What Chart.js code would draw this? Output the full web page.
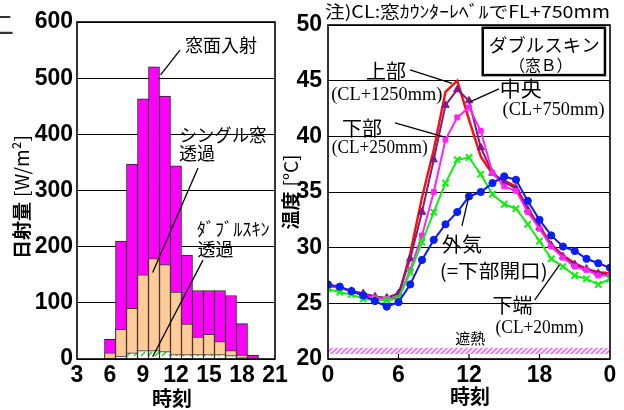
<!DOCTYPE html>
<html><head><meta charset="utf-8">
<script src="https://cdn.jsdelivr.net/npm/chart.js@4.4.1/dist/chart.umd.min.js"></script>
<style>
html,body{margin:0;padding:0;background:#fff;}
#wrap{position:relative;width:624px;height:410px;overflow:hidden;background:#fff;}
canvas{position:absolute;top:0;}
#solar{left:0;}
#temp{left:270px;}
</style></head><body>
<div id="wrap">
<canvas id="solar" width="300" height="410"></canvas>
<canvas id="temp" width="354" height="410"></canvas>
</div>
<script>
// --- hourly solar radiation on the window [W/m2] ---
const barHours    = [6, 7, 8, 9, 10, 11, 12, 13, 14, 15, 16, 17, 18, 19];
const incident    = [35, 210, 347, 463, 520, 468, 344, 185, 122, 122, 122, 113, 63, 7];
const singleTrans = [11, 53, 90, 150, 179, 168, 119, 62, 39, 44, 31, 15, 7, 0];
const doubleTrans = [1, 5, 11, 15, 15, 13, 8, 8, 8, 8, 8, 6, 3, 0];
const solarTicks  = [3, 6, 9, 12, 15, 18, 21];

// --- temperatures in the double skin cavity [°C] ---
const tempHours  = [0,1,2,3,4,5,6,7,8,9,10,11,12,13,14,15,16,17,18,19,20,21,22,23,24];
const upperTemp  = [26.6,26.4,26.1,25.8,25.6,25.4,25.6,29.5,34.5,38.8,44.0,45.0,41.5,38.2,36.6,36.0,35.5,33.5,31.9,30.3,29.3,28.6,28.1,27.8,27.7];
const middleTemp = [26.6,26.4,26.1,25.9,25.6,25.5,25.9,29.0,33.2,37.9,42.8,44.2,43.2,39.0,36.7,35.9,35.3,33.4,31.8,30.2,29.2,28.5,28.1,27.7,27.6];
const lowerTemp  = [26.6,26.4,26.1,25.7,25.5,25.4,25.5,28.0,31.1,35.0,39.7,41.7,42.6,40.5,36.7,35.5,35.1,33.2,31.7,30.1,29.1,28.3,28.0,27.5,27.5];
const outsideTemp= [26.7,26.5,26.1,25.7,25.2,24.7,25.1,26.7,28.9,30.7,32.1,33.2,34.6,35.0,35.8,36.4,36.1,34.2,32.5,31.1,30.1,29.7,29.0,28.6,28.2];
const edgeTemp   = [26.3,26.0,25.8,25.4,25.3,25.3,25.4,27.8,30.5,33.2,35.8,37.9,38.1,36.6,34.8,33.9,33.5,32.1,30.6,29.0,28.3,27.5,27.2,26.7,27.2];
const shieldHours  = [0, 24];
const shieldTop    = [21.0, 21.0];
const shieldBottom = [20.45, 20.45];
const tempTicks      = [0, 6, 12, 18, 24];
const tempTickLabels = ['0', '6', '12', '18', '0'];

const NUM = "'Liberation Sans Narrow','Arial Narrow','Liberation Sans',sans-serif";
const JP = "'Noto Sans CJK JP',sans-serif";
const SERIF = "'Liberation Serif',serif";

const pts = (xs, ys) => xs.map((x, i) => ({x: x, y: ys[i]}));

function makePattern(size, bg, color, lw, segs) {
  const c = document.createElement('canvas');
  c.width = size; c.height = size;
  const g = c.getContext('2d');
  g.fillStyle = bg; g.fillRect(0, 0, size, size);
  g.strokeStyle = color; g.lineWidth = lw;
  segs.forEach(s => { g.beginPath(); g.moveTo(s[0], s[1]); g.lineTo(s[2], s[3]); g.stroke(); });
  return g.createPattern(c, 'repeat');
}
const hatchGreen = makePattern(7, '#ffffff', '#22dd22', 1.6, [[1, 6, 5, 2]]);
const hatchPink  = makePattern(5, '#ffffff', '#ff66ff', 1.6, [[-1, 6, 6, -1], [4, 6, 6, 4], [-1, 1, 1, -1]]);

function txt(ctx, s, x, y, font, opts) {
  opts = opts || {};
  ctx.save();
  ctx.font = font;
  ctx.fillStyle = opts.color || '#000';
  ctx.textAlign = opts.align || 'center';
  ctx.textBaseline = 'middle';
  if (opts.width) {
    const k = opts.width / ctx.measureText(s).width;
    ctx.translate(x, y); ctx.scale(k, 1);
    ctx.fillText(s, 0, 0);
  } else {
    ctx.fillText(s, x, y);
  }
  ctx.restore();
}
function seg(ctx, x1, y1, x2, y2, w) {
  ctx.save();
  ctx.strokeStyle = '#000'; ctx.lineWidth = w || 1.3;
  ctx.beginPath(); ctx.moveTo(x1, y1); ctx.lineTo(x2, y2); ctx.stroke();
  ctx.restore();
}
// rotated axis title made of a bold part and a normal part
function vTitle(ctx, cx, cy, boldPart, normPart, size) {
  ctx.save();
  ctx.translate(cx, cy); ctx.rotate(-Math.PI / 2);
  ctx.textBaseline = 'middle'; ctx.fillStyle = '#000';
  ctx.font = 'bold ' + size + 'px ' + JP;
  const w1 = ctx.measureText(boldPart).width;
  ctx.font = size + 'px ' + JP;
  const w2 = ctx.measureText(normPart).width;
  const gap = 5, start = -(w1 + gap + w2) / 2;
  ctx.textAlign = 'left';
  ctx.font = 'bold ' + size + 'px ' + JP;
  ctx.fillText(boldPart, start, 0);
  ctx.font = size + 'px ' + JP;
  ctx.fillText(normPart, start + w1 + gap, 0);
  ctx.restore();
}

const solarDecor = {
  id: 'solarDecor',
  afterDraw(chart) {
    const ctx = chart.ctx, a = chart.chartArea;
    const X = v => chart.scales.x.getPixelForValue(v), Y = v => chart.scales.y.getPixelForValue(v);
    ctx.save();
    ctx.strokeStyle = '#000'; ctx.lineWidth = 1.6;
    ctx.strokeRect(a.left, a.top, a.right - a.left, a.bottom - a.top);
    ctx.restore();
    // leader lines
    seg(ctx, X(12.36), Y(550), X(10.6), Y(506));
    seg(ctx, X(14.0), Y(340), X(9.88), Y(154));
    seg(ctx, X(14.45), Y(176), X(9.88), Y(4));
    // series notes
    txt(ctx, '窓面入射', X(16.1), Y(559), '18px ' + JP);
    txt(ctx, 'シングル窓', X(16.27), Y(399), '18px ' + JP, {width: 87});
    txt(ctx, '透過', X(13.9), Y(367), '18px ' + JP);
    txt(ctx, 'ﾀﾞﾌﾞﾙｽｷﾝ', X(17.2), Y(231), '18px ' + JP, {width: 73});
    txt(ctx, '透過', X(15.6), Y(196), '18px ' + JP);
    // axis titles
    txt(ctx, '時刻', (a.left + a.right) / 2 - 4, 398, 'bold 20px ' + JP);
    vTitle(ctx, 22, 197, '日射量', '[W/m²]', 19);
    // heading remnant at the page corner
    txt(ctx, '二', 1, 24, '26px ' + JP, {color: '#333'});
  }
};

const tempDecor = {
  id: 'tempDecor',
  afterDraw(chart) {
    const ctx = chart.ctx, a = chart.chartArea;
    const X = v => chart.scales.x.getPixelForValue(v), Y = v => chart.scales.y.getPixelForValue(v);
    ctx.save();
    ctx.strokeStyle = '#000'; ctx.lineWidth = 1.6;
    ctx.strokeRect(a.left, a.top, a.right - a.left, a.bottom - a.top);
    ctx.lineWidth = 1.2;
    [6, 12, 18].forEach(h => { ctx.beginPath(); ctx.moveTo(X(h), a.bottom); ctx.lineTo(X(h), a.bottom - 5); ctx.stroke(); });
    ctx.restore();
    // note above the plot
    txt(ctx, '注)CL:窓ｶｳﾝﾀｰﾚﾍﾞﾙでFL+750mm', 197.5, 12, '17px ' + JP, {width: 285});
    // caption box
    ctx.save();
    ctx.fillStyle = '#fff'; ctx.strokeStyle = '#000'; ctx.lineWidth = 2.5;
    ctx.fillRect(X(13.17), Y(49.75), X(23.57) - X(13.17), Y(45.5) - Y(49.75));
    ctx.strokeRect(X(13.17), Y(49.75), X(23.57) - X(13.17), Y(45.5) - Y(49.75));
    ctx.restore();
    txt(ctx, 'ダブルスキン', X(18.4), Y(48.15), '18px ' + JP, {width: 111});
    txt(ctx, '（窓Ｂ）', X(18.1), Y(46.45), '16px ' + JP, {width: 63});
    // leader lines
    seg(ctx, X(6.98), Y(45.96), X(10.55), Y(44.75));
    seg(ctx, X(14.55), Y(44.26), X(12.09), Y(43.1));
    seg(ctx, X(5.7), Y(41.2), X(9.79), Y(39.97));
    seg(ctx, X(11.4), Y(31.95), X(12.0), Y(34.65));
    seg(ctx, X(17.6), Y(25.3), X(19.7), Y(28.45));
    // series notes
    txt(ctx, '上部', X(4.94), Y(45.8), '20px ' + JP);
    txt(ctx, '(CL+1250mm)', X(5.0), Y(43.7), '19px ' + SERIF, {width: 111});
    txt(ctx, '中央', X(16.4), Y(44.3), '21px ' + JP);
    txt(ctx, '(CL+750mm)', X(19.2), Y(42.4), '19px ' + SERIF, {width: 102});
    txt(ctx, '下部', X(2.9), Y(40.75), '20px ' + JP);
    txt(ctx, '(CL+250mm)', X(4.4), Y(38.96), '19px ' + SERIF, {width: 96});
    txt(ctx, '外気', X(11.4), Y(30.3), '20px ' + JP);
    txt(ctx, '(=下部開口)', X(14.1), Y(27.9), '19px ' + JP, {width: 108});
    txt(ctx, '下端', X(15.7), Y(24.8), '20px ' + JP);
    txt(ctx, '(CL+20mm)', X(18.0), Y(22.8), '19px ' + SERIF, {width: 88});
    txt(ctx, '遮熱', X(12.1), Y(21.9), '15px ' + JP);
    // axis titles
    txt(ctx, '時刻', (a.left + a.right) / 2 + 1, 396, 'bold 20px ' + JP);
    vTitle(ctx, 21, 192, '温度', '[°C]', 19);
  }
};

const tickFont = {family: NUM, size: 23, weight: 'bold'};
const barCommon = {grouped: false, barPercentage: 1, categoryPercentage: 1, borderWidth: 1};

new Chart(document.getElementById('solar'), {
  type: 'bar',
  data: {
    datasets: [
      Object.assign({label: 'ダブルスキン透過', data: pts(barHours, doubleTrans), backgroundColor: hatchGreen, borderColor: '#333'}, barCommon),
      Object.assign({label: 'シングル窓透過', data: pts(barHours, singleTrans), backgroundColor: '#FFCC99', borderColor: '#4a3a2a'}, barCommon),
      Object.assign({label: '窓面入射', data: pts(barHours, incident), backgroundColor: '#FF00FF', borderColor: '#222'}, barCommon)
    ]
  },
  options: {
    responsive: false, animation: false, devicePixelRatio: 1,
    layout: {padding: {top: 22, right: 25, left: 0, bottom: 0}},
    plugins: {legend: {display: false}, tooltip: {enabled: false}},
    scales: {
      x: {
        type: 'linear', min: 3, max: 21, offset: false,
        afterBuildTicks: s => { s.ticks = solarTicks.map(v => ({value: v})); },
        grid: {display: false, drawTicks: false}, border: {display: false},
        ticks: {font: tickFont, color: '#000', padding: 3, maxRotation: 0, autoSkip: false},
        afterFit: s => { s.height = 51; }
      },
      y: {
        min: 0, max: 600,
        ticks: {stepSize: 100, font: tickFont, color: '#000', padding: 4},
        grid: {color: '#000', lineWidth: 1, drawTicks: false}, border: {display: false},
        afterFit: s => { s.width = 77; }
      }
    }
  },
  plugins: [solarDecor]
});

const lineCommon = {tension: 0, fill: false};
new Chart(document.getElementById('temp'), {
  type: 'line',
  data: {
    datasets: [
      Object.assign({label: '外気', data: pts(tempHours, outsideTemp), borderColor: '#0a1ef0', backgroundColor: '#0a1ef0', borderWidth: 2, pointStyle: 'circle', pointRadius: 3.6, pointBorderWidth: 1}, lineCommon),
      Object.assign({label: '下端', data: pts(tempHours, edgeTemp), borderColor: '#11ee11', backgroundColor: '#11ee11', borderWidth: 2, pointStyle: 'crossRot', pointRadius: 4.5, pointBorderWidth: 2}, lineCommon),
      Object.assign({label: '下部', data: pts(tempHours, lowerTemp), borderColor: '#ff22ff', backgroundColor: '#ff22ff', borderWidth: 2, pointStyle: 'rect', pointRadius: 3.4, pointBorderWidth: 1}, lineCommon),
      Object.assign({label: '中央', data: pts(tempHours, middleTemp), borderColor: '#7f1a86', backgroundColor: '#7f1a86', borderWidth: 2, pointStyle: 'triangle', pointRadius: 4.3, pointBorderWidth: 1}, lineCommon),
      Object.assign({label: '上部', data: pts(tempHours, upperTemp), borderColor: '#ff0a0a', backgroundColor: '#ff0a0a', borderWidth: 2.4, pointRadius: 0}, lineCommon),
      {label: '遮熱上', data: pts(shieldHours, shieldTop), borderWidth: 0, pointRadius: 0, fill: false, borderColor: 'rgba(0,0,0,0)'},
      {label: '遮熱', data: pts(shieldHours, shieldBottom), borderWidth: 0, pointRadius: 0, fill: '-1', backgroundColor: hatchPink, borderColor: 'rgba(0,0,0,0)'}
    ]
  },
  options: {
    responsive: false, animation: false, devicePixelRatio: 1,
    layout: {padding: {top: 25, right: 14, left: 0, bottom: 0}},
    plugins: {legend: {display: false}, tooltip: {enabled: false}},
    scales: {
      x: {
        type: 'linear', min: 0, max: 24,
        afterBuildTicks: s => { s.ticks = tempTicks.map(v => ({value: v})); },
        grid: {display: false, drawTicks: false}, border: {display: false},
        ticks: {font: tickFont, color: '#000', padding: 3, maxRotation: 0, autoSkip: false,
          callback: v => tempTickLabels[tempTicks.indexOf(v)]},
        afterFit: s => { s.height = 51; }
      },
      y: {
        min: 20, max: 50,
        ticks: {stepSize: 5, font: tickFont, color: '#000', padding: 6},
        grid: {color: '#000', lineWidth: 1, drawTicks: false}, border: {display: false},
        afterFit: s => { s.width = 58; }
      }
    }
  },
  plugins: [tempDecor]
});
</script>
</body></html>
